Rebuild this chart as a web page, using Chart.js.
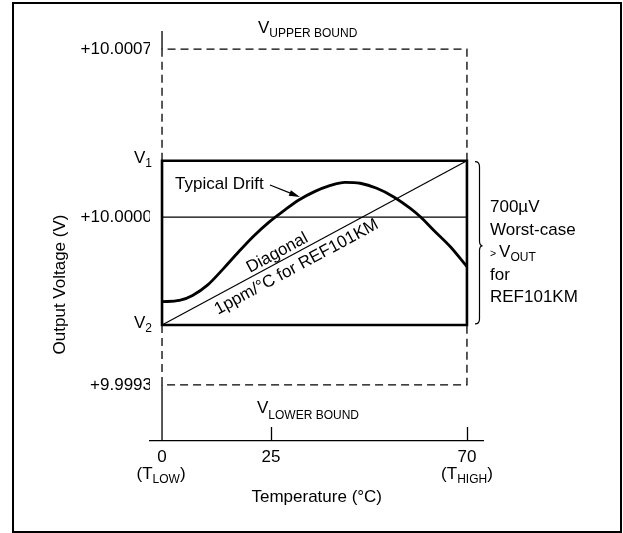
<!DOCTYPE html>
<html>
<head>
<meta charset="utf-8">
<script src="https://cdn.jsdelivr.net/npm/chart.js@4.4.1/dist/chart.umd.min.js"></script>
<style>
  html, body { margin: 0; padding: 0; background: #fff; overflow: hidden; }
  canvas { display: block; }
</style>
</head>
<body>
<canvas id="drift-chart" width="623" height="533"></canvas>
<script>
// temperature axis (°C)
var xTicks = [0, 25, 70];
var tLow = 0;
var tHigh = 70;
var xMin = -2.76;
var xMax = 73.8;

// output voltage axis (V)
var yTicks = [9.9993, 10.0000, 10.0007];
var yMin = 9.999066;
var yMax = 10.000776;
var vUpper = 10.0007;
var vLower = 9.9993;
var v1 = 10.000235;
var v2 = 9.99955;
var vNominal = 10.0000;

// typical drift curve
var driftTemp = [0, 4, 7, 10.5, 14, 17.5, 21, 24.5, 28, 31.5, 35, 38.5, 42,
    45.5, 49.3, 53.1, 57.0, 59.3, 62.3, 66.2, 70];
var driftVolt = [9.999647, 9.999652, 9.999673, 9.999717, 9.999783, 9.999853, 9.999920,
    9.999978, 10.000027, 10.000072, 10.000106, 10.000131, 10.000145, 10.000141,
    10.000120, 10.000085, 10.000036, 10.000001, 9.999946, 9.999876, 9.999793];

var FONT = "'Liberation Sans', Arial, Helvetica, sans-serif";
var BIG = 17;
var SMALL = 12;

function pts(xs, ys) {
    return xs.map(function (x, i) { return { x: x, y: ys[i] }; });
}

// draw a run of text pieces [text, size, dy] starting at x (or aligned to x)
function textRun(ctx, parts, x, y, align) {
    var w = 0;
    parts.forEach(function (p) {
        ctx.font = p[1] + 'px ' + FONT;
        w += ctx.measureText(p[0]).width;
    });
    var cx = align === 'right' ? x - w : (align === 'center' ? x - w / 2 : x);
    ctx.textAlign = 'left';
    ctx.textBaseline = 'alphabetic';
    parts.forEach(function (p) {
        ctx.font = p[1] + 'px ' + FONT;
        ctx.fillText(p[0], cx, y + (p[2] || 0));
        cx += ctx.measureText(p[0]).width;
    });
}

var annotations = {
    id: 'annotations',
    afterDraw: function (chart) {
        var ctx = chart.ctx;
        var xs = chart.scales.x;
        var ys = chart.scales.y;
        var area = chart.chartArea;
        ctx.save();
        ctx.fillStyle = '#000';
        ctx.strokeStyle = '#000';

        // outer frame
        ctx.lineWidth = 2;
        ctx.strokeRect(13, 3, 608, 529);

        // tick marks pointing up from the temperature axis
        ctx.lineWidth = 1.3;
        xTicks.forEach(function (v) {
            if (v === tLow) return;
            var px = Math.round(xs.getPixelForValue(v)) + 0.5;
            ctx.beginPath();
            ctx.moveTo(px, area.bottom);
            ctx.lineTo(px, area.bottom - 14);
            ctx.stroke();
        });

        // V1 / V2 labels
        var yV1 = ys.getPixelForValue(v1);
        var yV2 = ys.getPixelForValue(v2);
        textRun(ctx, [['V', BIG], ['1', SMALL, 4]], 152, yV1 + 2.7, 'right');
        textRun(ctx, [['V', BIG], ['2', SMALL, 4]], 152, yV2 + 2.7, 'right');

        // bound labels
        textRun(ctx, [['V', BIG], ['UPPER BOUND', SMALL, 4.5]], 258, ys.getPixelForValue(vUpper) - 16.5);
        textRun(ctx, [['V', BIG], ['LOWER BOUND', SMALL, 5.5]], 257, ys.getPixelForValue(vLower) + 28.5);

        // temperature sub labels
        var ty = area.bottom + 38;
        textRun(ctx, [['(', BIG], ['T', BIG], ['LOW', SMALL, 3.5], [')', BIG]], xs.getPixelForValue(tLow) - 1, ty, 'center');
        textRun(ctx, [['(', BIG], ['T', BIG], ['HIGH', SMALL, 3.5], [')', BIG]], xs.getPixelForValue(tHigh), ty, 'center');

        // y axis title
        ctx.save();
        ctx.translate(65, 284.5);
        ctx.rotate(-Math.PI / 2);
        ctx.font = BIG + 'px ' + FONT;
        ctx.textAlign = 'center';
        ctx.textBaseline = 'alphabetic';
        ctx.fillText('Output Voltage (V)', 0, 0);
        ctx.restore();

        // typical drift label with arrow
        ctx.font = BIG + 'px ' + FONT;
        ctx.textAlign = 'left';
        ctx.fillText('Typical Drift', 175, 188.5);
        var ax0 = 270, ay0 = 185, ax1 = 300, ay1 = 197;
        var ang = Math.atan2(ay1 - ay0, ax1 - ax0);
        ctx.lineWidth = 1.2;
        ctx.beginPath();
        ctx.moveTo(ax0, ay0);
        ctx.lineTo(ax1 - 9 * Math.cos(ang), ay1 - 9 * Math.sin(ang));
        ctx.stroke();
        ctx.beginPath();
        ctx.moveTo(ax1, ay1);
        ctx.lineTo(ax1 - 11 * Math.cos(ang) + 3 * Math.sin(ang), ay1 - 11 * Math.sin(ang) - 3 * Math.cos(ang));
        ctx.lineTo(ax1 - 11 * Math.cos(ang) - 3 * Math.sin(ang), ay1 - 11 * Math.sin(ang) + 3 * Math.cos(ang));
        ctx.closePath();
        ctx.fill();

        // labels along the diagonal
        var p0x = xs.getPixelForValue(tLow), p0y = yV2;
        var p1x = xs.getPixelForValue(tHigh), p1y = yV1;
        var dAng = Math.atan2(p1y - p0y, p1x - p0x);
        function along(s, t, off) {
            var f = (t - tLow) / (tHigh - tLow);
            ctx.save();
            ctx.translate(p0x + (p1x - p0x) * f, p0y + (p1y - p0y) * f);
            ctx.rotate(dAng);
            ctx.font = BIG + 'px ' + FONT;
            ctx.textAlign = 'center';
            ctx.textBaseline = 'alphabetic';
            ctx.fillText(s, 0, off);
            ctx.restore();
        }
        along('Diagonal', 27.4, -4);
        along('1ppm/°C for REF101KM', 29.5, 17.5);

        // brace on the right
        var bx = 479.5, yt = yV1 + 1, yb = yV2 - 1, ym = (yt + yb) / 2 + 3;
        ctx.lineWidth = 1.2;
        ctx.beginPath();
        ctx.moveTo(bx - 4.5, yt);
        ctx.quadraticCurveTo(bx, yt, bx, yt + 5);
        ctx.lineTo(bx, ym - 5);
        ctx.quadraticCurveTo(bx, ym, bx + 3, ym);
        ctx.quadraticCurveTo(bx, ym, bx, ym + 5);
        ctx.lineTo(bx, yb - 5);
        ctx.quadraticCurveTo(bx, yb, bx - 4.5, yb);
        ctx.stroke();

        // worst-case note
        var nx = 490;
        textRun(ctx, [['700µV', BIG]], nx, 212);
        textRun(ctx, [['Worst-case', BIG]], nx, 234.5);
        textRun(ctx, [['> ', 10.5], ['V', BIG], ['OUT', SMALL, 3.5]], nx, 257);
        textRun(ctx, [['for', BIG]], nx, 279.5);
        textRun(ctx, [['REF101KM', BIG]], nx, 302);

        ctx.restore();
    }
};

var thin = { borderColor: '#000', pointRadius: 0, fill: false, clip: false, tension: 0 };

var ctx = document.getElementById('drift-chart').getContext('2d');
var myChart = new Chart(ctx, {
    type: 'line',
    data: {
        datasets: [
            Object.assign({}, thin, {
                label: 'Upper bound',
                data: pts([tLow, tLow, tHigh, tHigh], [v1, vUpper, vUpper, v1]),
                borderWidth: 1.3,
                borderDash: [8, 5]
            }),
            Object.assign({}, thin, {
                label: 'Lower bound',
                data: pts([tLow, tLow, tHigh, tHigh], [v2, vLower, vLower, v2]),
                borderWidth: 1.3,
                borderDash: [8, 5]
            }),
            Object.assign({}, thin, {
                label: 'Axis',
                data: pts([tLow, tLow, tLow, tLow, tLow], [yMax, vUpper, null, vLower, yMin]),
                borderWidth: 1.3,
                spanGaps: false
            }),
            Object.assign({}, thin, {
                label: 'Nominal',
                data: pts([tLow, tHigh], [vNominal, vNominal]),
                borderWidth: 1.2
            }),
            Object.assign({}, thin, {
                label: 'Diagonal',
                data: pts([tLow, tHigh], [v2, v1]),
                borderWidth: 1.2
            }),
            Object.assign({}, thin, {
                label: 'Window',
                data: pts([tLow, tHigh, tHigh, tLow, tLow], [v1, v1, v2, v2, v1]),
                borderWidth: 2.6,
                borderCapStyle: 'square',
                borderJoinStyle: 'miter'
            }),
            Object.assign({}, thin, {
                label: 'Typical drift',
                data: pts(driftTemp, driftVolt),
                borderWidth: 2.8,
                cubicInterpolationMode: 'monotone'
            })
        ]
    },
    options: {
        responsive: false,
        devicePixelRatio: 1,
        animation: false,
        layout: { padding: { top: 31, right: 139.5, bottom: 0, left: 0 } },
        plugins: { legend: { display: false }, tooltip: { enabled: false } },
        scales: {
            x: {
                type: 'linear',
                min: xMin,
                max: xMax,
                afterFit: function (s) { s.height = 92; },
                afterBuildTicks: function (s) {
                    s.ticks = xTicks.map(function (v) { return { value: v }; });
                },
                border: { display: true, color: '#000', width: 1.3 },
                grid: { display: false, drawTicks: false },
                ticks: {
                    color: '#000',
                    padding: 6,
                    maxRotation: 0,
                    autoSkip: false,
                    font: { family: FONT, size: BIG },
                    callback: function (v) { return String(v); }
                },
                title: {
                    display: true,
                    text: 'Temperature (°C)',
                    color: '#000',
                    font: { family: FONT, size: BIG },
                    padding: { top: 0, bottom: 25 }
                }
            },
            y: {
                min: yMin,
                max: yMax,
                afterFit: function (s) { s.width = 150; },
                afterBuildTicks: function (s) {
                    s.ticks = yTicks.map(function (v) { return { value: v }; });
                },
                border: { display: false },
                grid: { display: false, drawTicks: false },
                ticks: {
                    color: '#000',
                    padding: -2,
                    font: { family: FONT, size: BIG },
                    callback: function (v) { return '+' + Number(v).toFixed(4); }
                }
            }
        }
    },
    plugins: [annotations]
});
</script>
</body>
</html>
